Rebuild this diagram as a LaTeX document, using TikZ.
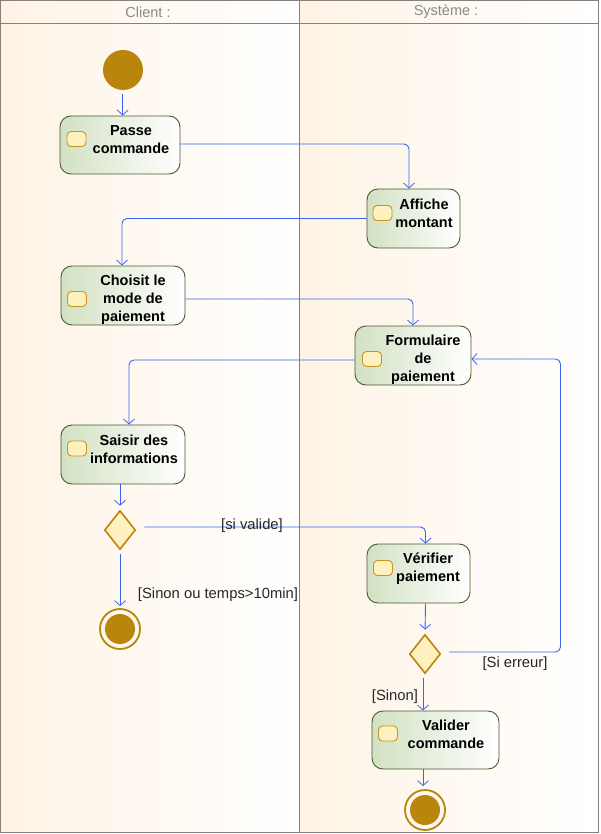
\documentclass[tikz,border=0pt]{standalone}
\usepackage{fontspec}
\setmainfont{Liberation Sans}
\usetikzlibrary{shapes.geometric,arrows.meta}
\definecolor{laneL}{HTML}{FEF3E5}
\definecolor{frameC}{HTML}{858079}
\definecolor{headT}{HTML}{8A8A8A}
\definecolor{actL}{HTML}{D2E1C3}
\definecolor{actB}{HTML}{4A5A2C}
\definecolor{iconF}{HTML}{FFF0C0}
\definecolor{iconB}{HTML}{C8961E}
\definecolor{gold}{HTML}{B9850A}
\definecolor{flowC}{HTML}{3A64F5}
\tikzset{
  actbox/.style={draw=actB, line width=0.9pt, rounded corners=11pt, left color=actL, right color=white, inner sep=0pt},
  acticon/.style={draw=iconB, line width=0.9pt, fill=iconF, rounded corners=4pt, minimum width=19pt, minimum height=15pt, inner sep=0pt},
  acttext/.style={font=\fontsize{14.5}{18}\selectfont\bfseries, align=center, inner sep=0pt},
  decis/.style={diamond, draw=gold, line width=1.6pt, fill=iconF, minimum width=31pt, minimum height=39pt, inner sep=0pt},
  initnode/.style={circle, fill=gold, minimum size=40pt, inner sep=0pt},
  finring/.style={circle, draw=gold, line width=1.8pt, minimum size=40pt, inner sep=0pt},
  findot/.style={circle, fill=gold, minimum size=30pt, inner sep=0pt},
  flow/.style={draw=flowC, line width=0.9pt, rounded corners=5pt, -{Straight Barb[length=5pt,width=11pt,line width=0.8pt]}},
  guard/.style={font=\fontsize{14.8}{16}\selectfont, inner sep=0pt, text=black!85},
  lanehead/.style={font=\fontsize{14.5}{16}\selectfont, text=headT, inner sep=0pt}
}
\begin{document}
\begin{tikzpicture}[x=1pt,y=-1pt]
\useasboundingbox (0,0) rectangle (600,834);
% lanes
\shade[left color=laneL, right color=white] (0.5,0.5) rectangle (299,832.5);
\shade[left color=laneL, right color=white] (299,0.5) rectangle (598.5,832.5);
\draw[frameC, line width=0.9pt] (0.5,0.5) rectangle (598.5,832.5);
\draw[frameC, line width=0.9pt] (0.5,23) -- (598.5,23);
\draw[frameC, line width=0.9pt] (299,0.5) -- (299,832.5);
\node[lanehead] (hc) at (148,12) {Client :};
\node[lanehead] (hs) at (446,12) {Système :};

% initial
\node[initnode] (init) at (123,70) {};

% actions
\node[actbox, minimum width=120pt, minimum height=58pt] (pc) at (120,145) {};
\node[acticon] (pci) at (76.5,139) {};
\node[acttext] (pct) at (131,139.5) {Passe\\commande};

\node[actbox, minimum width=93pt, minimum height=59pt] (am) at (413.5,218.5) {};
\node[acticon] (ami) at (382.5,213) {};
\node[acttext] (amt) at (424,213) {Affiche\\montant};

\node[actbox, minimum width=124pt, minimum height=59pt] (cm) at (123,295.5) {};
\node[acticon] (cmi) at (77,299) {};
\node[acttext] (cmt) at (133,299.5) {Choisit le\\mode de\\paiement};

\node[actbox, minimum width=116pt, minimum height=59pt] (fp) at (413,355.5) {};
\node[acticon] (fpi) at (372,359) {};
\node[acttext] (fpt) at (423,359.5) {Formulaire\\de\\paiement};

\node[actbox, minimum width=124pt, minimum height=59pt] (si) at (123,454.5) {};
\node[acticon] (sii) at (77,448.5) {};
\node[acttext] (sit) at (134,449.5) {Saisir des\\informations};

\node[actbox, minimum width=103pt, minimum height=59pt] (vp) at (418.5,573.5) {};
\node[acticon] (vpi) at (383,568) {};
\node[acttext] (vpt) at (428,568.5) {Vérifier\\paiement};

\node[actbox, minimum width=127pt, minimum height=58pt] (vc) at (435.5,740) {};
\node[acticon] (vci) at (388,733.5) {};
\node[acttext] (vct) at (446,734.5) {Valider\\commande};

% decisions
\node[decis] (d1) at (120,530) {};
\node[decis] (d2) at (425,654) {};

% finals
\node[finring] (f1) at (120,629) {};
\node[findot] (f1d) at (120,629) {};
\node[finring] (f2) at (425,810) {};
\node[findot] (f2d) at (425,810) {};

% flows
\draw[flow, shorten <=4pt] ([xshift=-0.3pt]init.south) -- ([xshift=2.7pt]pc.north);
\draw[flow] ([yshift=1pt]pc.east) -| ([xshift=-4.5pt]am.north);
\draw[flow] (am.west) -| ([xshift=-1pt]cm.north);
\draw[flow] ([yshift=-3.5pt]cm.east) -| (fp.north);
\draw[flow] ([yshift=-4.5pt]fp.west) -| ([xshift=6pt]si.north);
\draw[flow, shorten >=4pt] ([xshift=-3pt]si.south) -- (d1.north);
\draw[flow, shorten <=8pt] ([yshift=3pt]d1.east) -| ([xshift=7pt]vp.north);
\draw[flow, shorten <=4pt, shorten >=2pt] (d1.south) -- (f1.north);
\draw[flow, shorten >=4pt] ([xshift=7pt]vp.south) -- (d2.north);
\draw[flow, shorten <=8pt] ([yshift=2pt]d2.east) -| ([xshift=89pt,yshift=-3.5pt]fp.east) -- ([yshift=-3.5pt]fp.east);
\draw[flow, shorten <=4pt] ([xshift=-2pt]d2.south) -- ([xshift=-12.5pt]vc.north);
\draw[flow, shorten >=3pt] ([xshift=-12.5pt]vc.south) -- ([xshift=-2pt]f2.north);

% guards
\node[guard] (g1) at (252,526) {[si valide]};
\node[guard] (g2) at (218,595) {[Sinon ou temps>10min]};
\node[guard] (g3) at (515,664) {[Si erreur]};
\node[guard] (g4) at (395,697) {[Sinon]};
\end{tikzpicture}
\end{document}
